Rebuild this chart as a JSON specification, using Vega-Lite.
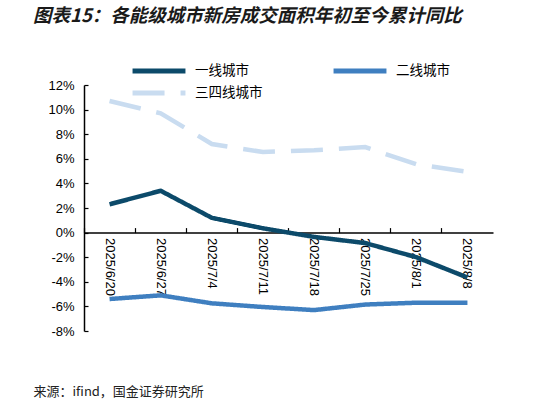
{
  "$schema": "https://vega.github.io/schema/vega-lite/v6.json",
  "width": 409,
  "height": 246,
  "autosize": {"type": "none"},
  "padding": {"left": 84, "top": 85, "right": 66, "bottom": 72},
  "background": "white",
  "title": {
    "text": "图表15：各能级城市新房成交面积年初至今累计同比",
    "anchor": "start",
    "frame": "group",
    "dx": -51,
    "dy": -34,
    "font": "Noto Sans CJK SC",
    "fontSize": 18.5,
    "fontWeight": "bold",
    "fontStyle": "italic",
    "color": "#1a1a1a"
  },
  "data": {
    "values": [
      {"date": "2025/6/20", "series": "一线城市", "v": 2.3},
      {"date": "2025/6/27", "series": "一线城市", "v": 3.4},
      {"date": "2025/7/4", "series": "一线城市", "v": 1.2},
      {"date": "2025/7/11", "series": "一线城市", "v": 0.35},
      {"date": "2025/7/18", "series": "一线城市", "v": -0.35},
      {"date": "2025/7/25", "series": "一线城市", "v": -0.85},
      {"date": "2025/8/1", "series": "一线城市", "v": -2.0},
      {"date": "2025/8/8", "series": "一线城市", "v": -3.65},
      {"date": "2025/6/20", "series": "二线城市", "v": -5.4},
      {"date": "2025/6/27", "series": "二线城市", "v": -5.1},
      {"date": "2025/7/4", "series": "二线城市", "v": -5.75},
      {"date": "2025/7/11", "series": "二线城市", "v": -6.05},
      {"date": "2025/7/18", "series": "二线城市", "v": -6.3},
      {"date": "2025/7/25", "series": "二线城市", "v": -5.85},
      {"date": "2025/8/1", "series": "二线城市", "v": -5.7},
      {"date": "2025/8/8", "series": "二线城市", "v": -5.7},
      {"date": "2025/6/20", "series": "三四线城市", "v": 10.7},
      {"date": "2025/6/27", "series": "三四线城市", "v": 9.7},
      {"date": "2025/7/4", "series": "三四线城市", "v": 7.2},
      {"date": "2025/7/11", "series": "三四线城市", "v": 6.55},
      {"date": "2025/7/18", "series": "三四线城市", "v": 6.7},
      {"date": "2025/7/25", "series": "三四线城市", "v": 6.95},
      {"date": "2025/8/1", "series": "三四线城市", "v": 5.55},
      {"date": "2025/8/8", "series": "三四线城市", "v": 4.95}
    ]
  },
  "mark": {"type": "line", "strokeWidth": 4.5},
  "encoding": {
    "x": {
      "field": "date",
      "type": "nominal",
      "sort": ["2025/6/20", "2025/6/27", "2025/7/4", "2025/7/11", "2025/7/18", "2025/7/25", "2025/8/1", "2025/8/8"],
      "scale": {"type": "band", "paddingInner": 0, "paddingOuter": 0},
      "axis": {
        "offset": -98.4,
        "labelAngle": 90,
        "labelFont": "Liberation Sans",
        "labelFontSize": 13,
        "labelColor": "#000000",
        "tickSize": -5,
        "tickColor": "#000000",
        "domainColor": "#000000",
        "domainWidth": 1.5,
        "tickWidth": 1.2,
        "bandPosition": 0,
        "labelPadding": 10,
        "title": "来源：ifind，国金证券研究所",
        "titleX": -51,
        "titleY": 163,
        "titleAlign": "left",
        "titleAngle": 0,
        "titleBaseline": "alphabetic",
        "titleFont": "Noto Sans CJK SC",
        "titleFontSize": 13,
        "titleFontWeight": "normal",
        "titleColor": "#222222"
      }
    },
    "y": {
      "field": "v",
      "type": "quantitative",
      "scale": {"domain": [-8, 12], "nice": false, "zero": false},
      "axis": {
        "values": [-8, -6, -4, -2, 0, 2, 4, 6, 8, 10, 12],
        "labelExpr": "datum.value + '%'",
        "labelFont": "Liberation Sans",
        "labelFontSize": 13,
        "labelColor": "#000000",
        "tickSize": -4,
        "labelPadding": 14,
        "tickColor": "#000000",
        "domainColor": "#000000",
        "domainWidth": 1.5,
        "tickWidth": 1.2,
        "grid": false,
        "title": null
      }
    },
    "color": {
      "field": "series",
      "type": "nominal",
      "scale": {"domain": ["一线城市", "二线城市", "三四线城市"], "range": ["#0c4a6a", "#3f7fc0", "#c9dcf0"]},
      "legend": {
        "title": null,
        "orient": "none",
        "legendX": 67,
        "legendY": -22,
        "direction": "horizontal",
        "columns": 2,
        "columnPadding": 60,
        "rowPadding": 2,
        "symbolType": "M-5,0H5",
        "symbolSize": 112,
        "symbolStrokeWidth": 5,
        "labelFont": "Noto Sans CJK SC",
        "labelFontSize": 13.5,
        "labelColor": "#000000",
        "labelOffset": 28
      }
    },
    "strokeDash": {
      "field": "series",
      "type": "nominal",
      "scale": {"domain": ["一线城市", "二线城市", "三四线城市"], "range": [[1, 0], [1, 0], [32, 16]]},
      "legend": null
    }
  },
  "config": {
    "view": {"stroke": null},
    "axis": {"grid": false}
  }
}
